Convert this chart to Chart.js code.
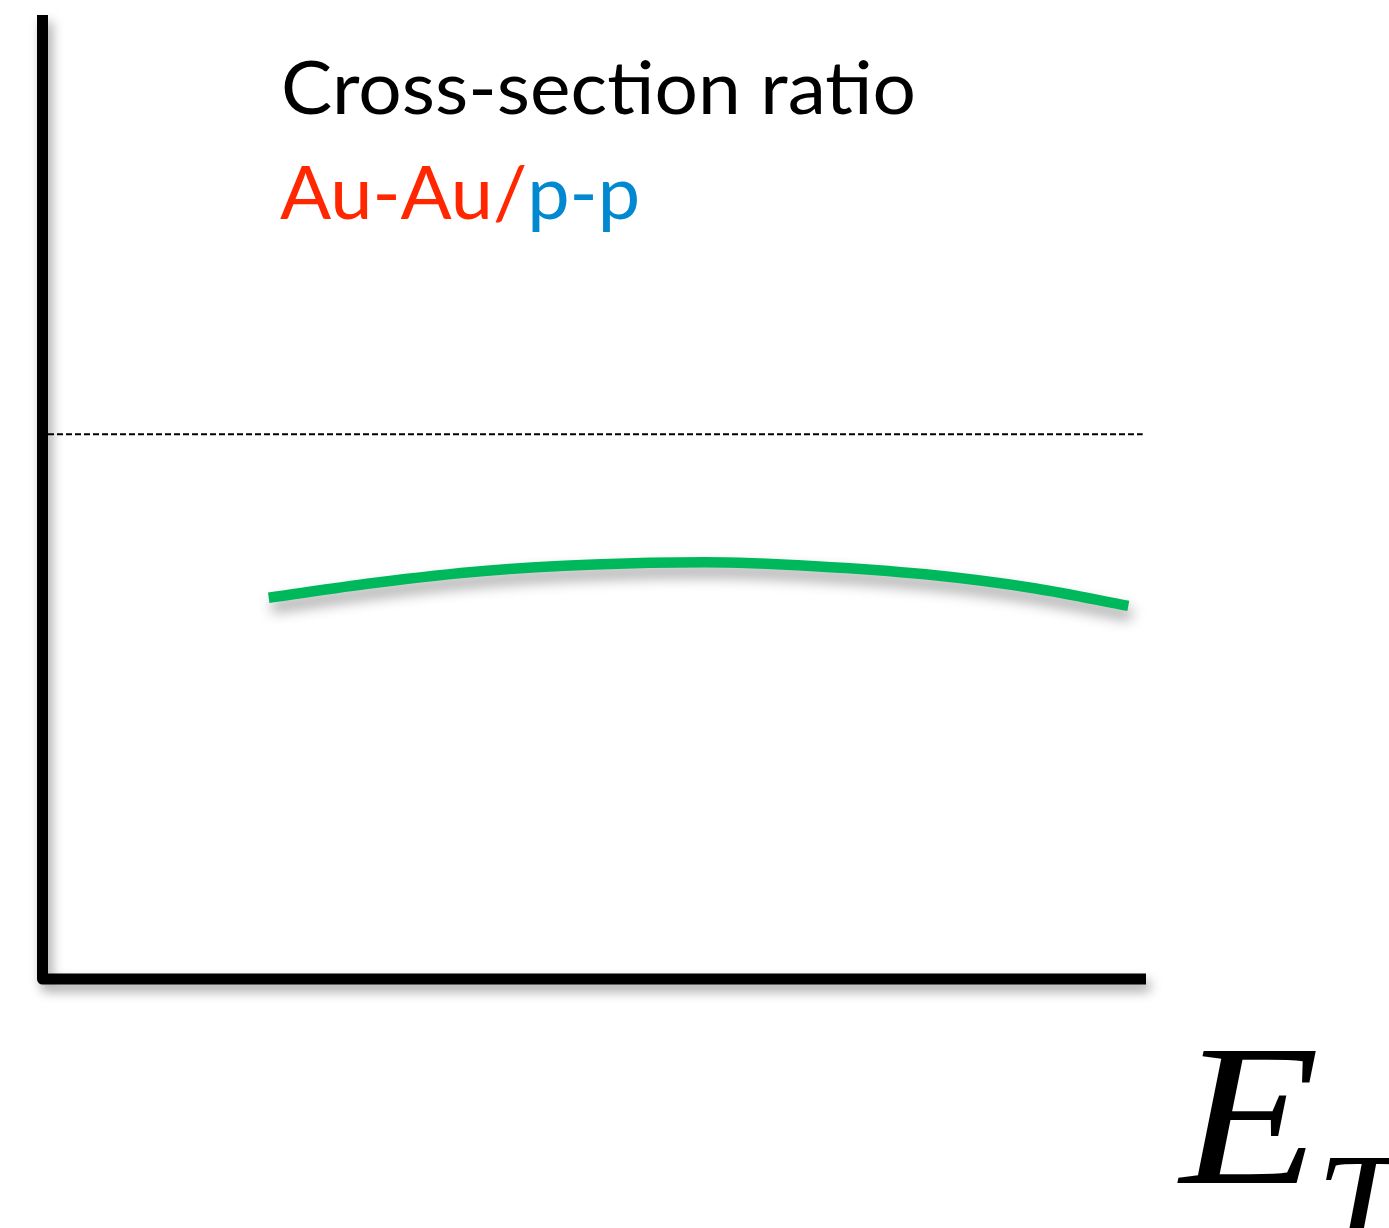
<!DOCTYPE html>
<html>
<head>
<meta charset="utf-8">
<title>Cross-section ratio vs E_T</title>
<script src="https://cdn.jsdelivr.net/npm/chart.js@4/dist/chart.umd.min.js"></script>
<style>
  html, body { margin: 0; padding: 0; background: #ffffff; }
  #wrap { width: 1389px; height: 1228px; }
</style>
</head>
<body>
<div id="wrap"><canvas id="c" width="1389" height="1228"></canvas></div>
<script>
// Transverse energy positions (arbitrary units) along the horizontal axis
const etValues = [2.05, 3, 4, 5, 6, 7, 8, 9, 9.84];
// Au-Au / p-p cross-section ratio at those positions
const ratioValues = [0.700, 0.727, 0.749, 0.761, 0.765, 0.758, 0.743, 0.717, 0.685];
// Reference line: ratio of one, across the plot
const unityX = [0.05, 9.97];
const unityY = [1, 1];
// Axis ranges
const xRange = [0, 10];
const yRange = [0, 1.77];

const titleLine = "Cross-section ratio";
const ratioParts = [
  { text: "Au-Au/", color: "rgb(255,38,0)" },
  { text: "p-p", color: "rgb(0,136,209)" }
];

const toPoints = (xs, ys) => xs.map((x, i) => ({ x: x, y: ys[i] }));

// Draw the thick axes with a soft drop shadow, plus the labels
const decorPlugin = {
  id: 'decor',
  beforeDatasetDraw(chart, args) {
    const ctx = chart.ctx;
    ctx.save();
    if (args.index === 1) {
      ctx.shadowColor = 'rgba(0,0,0,0.38)';
      ctx.shadowBlur = 14;
      ctx.shadowOffsetX = 3;
      ctx.shadowOffsetY = 9;
    }
  },
  afterDatasetDraw(chart) {
    chart.ctx.restore();
  },
  afterDraw(chart) {
    const ctx = chart.ctx;
    const a = chart.chartArea;
    const w = 11;

    // Axes
    ctx.save();
    ctx.shadowColor = 'rgba(0,0,0,0.35)';
    ctx.shadowBlur = 12;
    ctx.shadowOffsetX = 4;
    ctx.shadowOffsetY = 7;
    ctx.strokeStyle = '#000';
    ctx.lineWidth = w;
    ctx.lineCap = 'butt';
    ctx.lineJoin = 'round';
    ctx.beginPath();
    ctx.moveTo(a.left, a.top);
    ctx.lineTo(a.left, a.bottom);
    ctx.lineTo(a.right, a.bottom);
    ctx.stroke();
    ctx.restore();

    // Title lines
    const drawFitted = (parts, x, baseline, targetW, font) => {
      ctx.save();
      ctx.font = font;
      ctx.textBaseline = 'alphabetic';
      ctx.textAlign = 'left';
      const full = parts.map(p => p.text).join('');
      const natural = ctx.measureText(full).width;
      const sx = targetW / natural;
      ctx.translate(x, baseline);
      ctx.scale(sx, 1);
      let cx = 0;
      parts.forEach(p => {
        ctx.fillStyle = p.color;
        ctx.fillText(p.text, cx, 0);
        cx += ctx.measureText(p.text).width;
      });
      ctx.restore();
    };
    drawFitted([{ text: titleLine, color: '#000' }], 281, 114, 635, '74px Lato, "Open Sans", sans-serif');
    drawFitted(ratioParts, 280, 219, 358, '74px Lato, "Open Sans", sans-serif');

    // Horizontal axis symbol E_T
    ctx.save();
    ctx.fillStyle = '#000';
    ctx.textBaseline = 'alphabetic';
    ctx.textAlign = 'left';
    ctx.font = 'italic 202px "Liberation Serif", "DejaVu Serif", serif';
    ctx.translate(1180, 1183);
    ctx.scale(1.13, 1);
    ctx.fillText('E', 0, 0);
    ctx.restore();
    ctx.save();
    ctx.fillStyle = '#000';
    ctx.font = 'italic 142px "Liberation Serif", "DejaVu Serif", serif';
    ctx.translate(1316, 1251);
    ctx.scale(1.08, 1);
    ctx.fillText('T', 0, 0);
    ctx.restore();
  }
};

new Chart(document.getElementById('c'), {
  type: 'line',
  data: {
    datasets: [
      {
        label: 'unity',
        data: toPoints(unityX, unityY),
        borderColor: '#000',
        borderWidth: 2,
        borderDash: [6, 3],
        pointRadius: 0,
        fill: false
      },
      {
        label: 'Au-Au/p-p',
        data: toPoints(etValues, ratioValues),
        borderColor: 'rgb(0,184,92)',
        borderWidth: 10.5,
        borderCapStyle: 'butt',
        cubicInterpolationMode: 'monotone',
        pointRadius: 0,
        fill: false
      }
    ]
  },
  options: {
    responsive: false,
    animation: false,
    events: [],
    layout: { padding: { left: 42.5, top: 15, right: 243, bottom: 249 } },
    plugins: { legend: { display: false }, tooltip: { enabled: false } },
    scales: {
      x: { type: 'linear', min: xRange[0], max: xRange[1], display: false },
      y: { type: 'linear', min: yRange[0], max: yRange[1], display: false }
    }
  },
  plugins: [decorPlugin]
});
</script>
</body>
</html>
